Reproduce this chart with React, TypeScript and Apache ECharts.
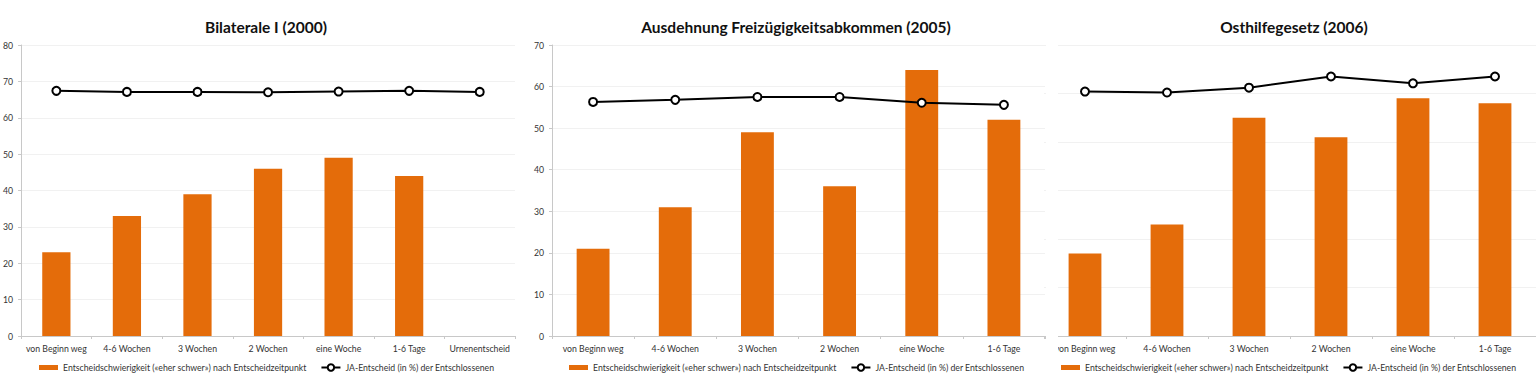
import React, { useEffect, useRef } from 'react';
import * as echarts from 'echarts';

const categories1 = ['von Beginn weg', '4-6 Wochen', '3 Wochen', '2 Wochen', 'eine Woche', '1-6 Tage', 'Urnenentscheid'];
const categories2 = ['von Beginn weg', '4-6 Wochen', '3 Wochen', '2 Wochen', 'eine Woche', '1-6 Tage'];
const categories3 = ['von Beginn weg', '4-6 Wochen', '3 Wochen', '2 Wochen', 'eine Woche', '1-6 Tage'];

const bars1 = [23, 33, 39, 46, 49, 44, null];
const line1 = [67.4, 67.1, 67.1, 67.0, 67.2, 67.4, 67.1];
const bars2 = [21, 31, 49, 36, 64, 52];
const line2 = [56.3, 56.8, 57.5, 57.5, 56.1, 55.6];
const bars3 = [17, 23, 45, 41, 49, 48];
const line3 = [50.4, 50.2, 51.2, 53.5, 52.1, 53.5];

const titles = ['Bilaterale I (2000)', 'Ausdehnung Freizügigkeitsabkommen (2005)', 'Osthilfegesetz (2006)'];
const seriesNames = ['Entscheidschwierigkeit («eher schwer») nach Entscheidzeitpunkt', 'JA-Entscheid (in %) der Entschlossenen'];
const yMax = [80, 70, 60];

const FONT = 'Lato';
const ORANGE = '#E46C0A';
const SMALL = 8.7;

export default function App() {
  const ref = useRef<HTMLDivElement>(null);
  useEffect(() => {
    document.body.style.margin = '0';
    const chart = echarts.init(ref.current!, null, { renderer: 'svg' });
    const grids = [
      { left: 21, top: 45, width: 494, height: 291 },
      { left: 552, top: 45, width: 493, height: 291 },
      { left: 1044, top: 45, width: 493, height: 291 },
    ];
    const cats = [categories1, categories2, categories3];
    const bars = [bars1, bars2, bars3];
    const lines = [line1, line2, line3];
    const titleX = [261, 791, 1289];
    const legendX = [39, 569, 1061];

    const xAxis = cats.map((c, i) => ({
      type: 'category',
      gridIndex: i,
      data: c,
      axisLine: { lineStyle: { color: '#c8c8c8', width: 1 } },
      axisTick: { show: true, length: 3, lineStyle: { color: '#c8c8c8' } },
      axisLabel: { color: '#333', fontFamily: FONT, fontSize: SMALL, margin: 8, interval: 0 },
    }));
    const yAxis = yMax.map((m, i) => ({
      type: 'value',
      gridIndex: i,
      min: 0,
      max: m,
      interval: 10,
      axisLine: { show: i < 2, lineStyle: { color: '#c8c8c8' } },
      axisTick: { show: i < 2, length: 3, lineStyle: { color: '#c8c8c8' } },
      axisLabel: { show: i < 2, color: '#333', fontFamily: FONT, fontSize: SMALL, margin: 8 },
      splitLine: { show: true, lineStyle: { color: '#f1f1f1', width: 1 } },
    }));
    const series: any[] = [];
    for (let i = 0; i < 3; i++) {
      series.push({
        type: 'bar',
        name: seriesNames[0],
        xAxisIndex: i,
        yAxisIndex: i,
        data: bars[i],
        barWidth: '40%',
        itemStyle: { color: ORANGE },
      });
      series.push({
        type: 'line',
        name: seriesNames[1],
        xAxisIndex: i,
        yAxisIndex: i,
        data: lines[i],
        symbol: 'emptyCircle',
        symbolSize: 8,
        lineStyle: { color: '#000', width: 2 },
        itemStyle: { color: '#000', borderColor: '#000', borderWidth: 1 },
      });
    }
    chart.setOption({
      animation: false,
      backgroundColor: '#fff',
      title: titles.map((t, i) => ({
        text: t,
        left: titleX[i],
        top: 14,
        textAlign: 'center',
        textStyle: { fontFamily: FONT, fontSize: 15.5, fontWeight: 'bold', color: '#111' },
      })),
      legend: legendX.map((x) => ({
        left: x,
        top: 363,
        width: 700,
        itemWidth: 19,
        itemHeight: 8,
        itemGap: 14,
        padding: 0,
        textStyle: { fontFamily: FONT, fontSize: SMALL, color: '#333' },
        data: [
          { name: seriesNames[0], icon: 'path://M0 0H19V5H0Z' },
          { name: seriesNames[1] },
        ],
      })),
      grid: grids,
      xAxis,
      yAxis,
      series,
      graphic: [
        {
          type: 'rect',
          z: 100,
          shape: { x: 1046, y: 38, width: 12, height: 322 },
          style: { fill: '#fff' },
        },
      ],
    });
    return () => chart.dispose();
  }, []);
  return <div ref={ref} style={{ width: 1536, height: 386 }} />;
}
